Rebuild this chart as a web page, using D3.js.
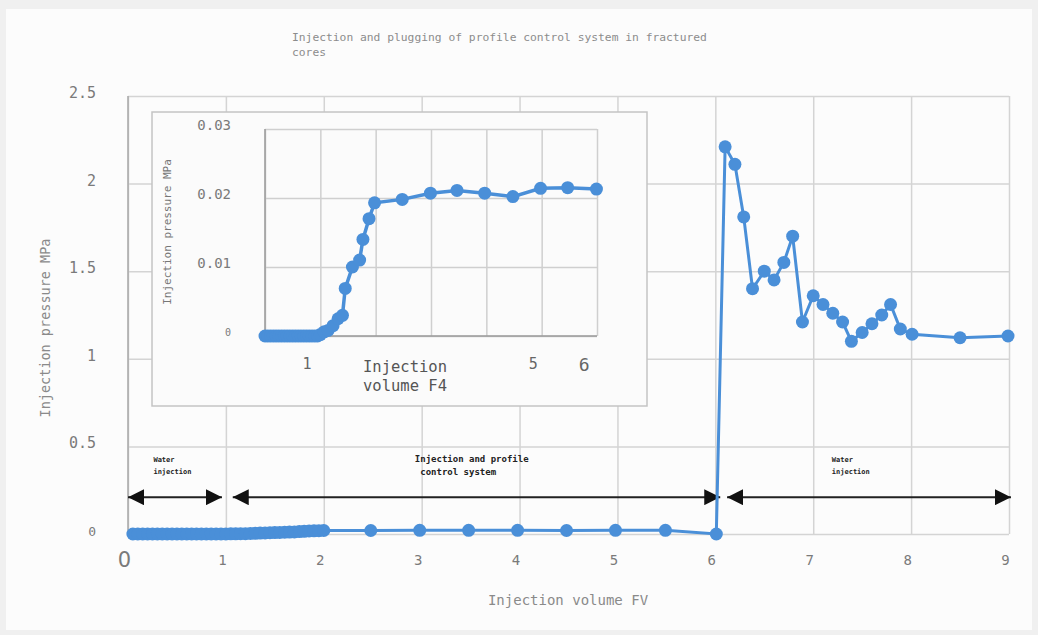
<!DOCTYPE html>
<html>
<head>
<meta charset="utf-8">
<script src="https://cdn.jsdelivr.net/npm/d3@7"></script>
<style>
  html, body { margin: 0; padding: 0; background: #f0f0f0; }
  svg { display: block; }
  text { font-family: "DejaVu Sans Mono", "Liberation Mono", monospace; }
</style>
</head>
<body>
<div id="chart"></div>
<script>
"use strict";

// main series (injection volume FV, pressure MPa)
var mainX = [0.05, 0.1, 0.15, 0.2, 0.25, 0.3, 0.35, 0.4, 0.45, 0.5, 0.55, 0.6, 0.65, 0.7, 0.75, 0.8, 0.85, 0.9, 0.95, 1.0,
  1.05, 1.1, 1.15, 1.2, 1.25, 1.3, 1.35, 1.4, 1.45, 1.5, 1.55, 1.6, 1.65, 1.7, 1.75, 1.8, 1.85, 1.9, 1.95, 2.0,
  2.48, 2.98, 3.48, 3.98, 4.48, 4.98, 5.49, 6.01,
  6.10, 6.20, 6.29, 6.38, 6.50, 6.60, 6.70, 6.79, 6.89, 7.00, 7.10, 7.20, 7.30, 7.39, 7.50, 7.60, 7.70, 7.79, 7.89, 8.01, 8.50, 8.99];
var mainY = [0, 0, 0, 0, 0, 0, 0, 0, 0, 0, 0, 0, 0, 0, 0, 0, 0, 0, 0, 0,
  0.001, 0.001, 0.002, 0.002, 0.003, 0.004, 0.005, 0.006, 0.007, 0.008, 0.009, 0.010, 0.011, 0.012, 0.014, 0.015, 0.017, 0.018, 0.019, 0.02,
  0.02, 0.021, 0.021, 0.021, 0.02, 0.021, 0.021, 0.0,
  2.21, 2.11, 1.81, 1.40, 1.50, 1.45, 1.55, 1.70, 1.21, 1.36, 1.31, 1.26, 1.21, 1.10, 1.15, 1.20, 1.25, 1.31, 1.17, 1.14, 1.12, 1.13];

// inset series (zoom of the low pressure part)
var insetX = [0, 0.05, 0.1, 0.15, 0.2, 0.25, 0.3, 0.35, 0.4, 0.45, 0.5, 0.55, 0.6, 0.65, 0.7, 0.75, 0.8, 0.85, 0.9, 0.95,
  1.0, 1.07, 1.14, 1.23, 1.32, 1.40, 1.45, 1.58, 1.71, 1.77, 1.88, 1.98, 2.48, 2.99, 3.47, 3.97, 4.48, 4.98, 5.47, 5.99];
var insetY = [0, 0, 0, 0, 0, 0, 0, 0, 0, 0, 0, 0, 0, 0, 0, 0, 0, 0, 0, 0,
  0.0002, 0.0006, 0.0008, 0.0015, 0.0025, 0.003, 0.0069, 0.0100, 0.0110, 0.0140, 0.0170, 0.0193, 0.0198, 0.0207, 0.0211, 0.0207, 0.0202, 0.0214, 0.0215, 0.0213];

var xTicks = [0, 1, 2, 3, 4, 5, 6, 7, 8, 9];
var yTicks = [0, 0.5, 1, 1.5, 2, 2.5];
var insetGridX = [0, 1, 2, 3, 4, 5, 6];
var insetYTicks = [0, 0.01, 0.02, 0.03];
var insetTickVals = [0.75, 4.84, 5.76];
var insetTickText = ["1", "5", "6"];

// phases drawn as double arrows
var phaseFrom = [0, 1.07, 6.12];
var phaseTo = [0.96, 6.05, 9.02];
var phaseTextX = [0.26, 2.93, 7.19];
var phaseText = [["Water", "injection"], ["Injection and profile", " control system"], ["Water", "injection"]];

var width = 1038;
var height = 635;
var blue = "#4a8fd8";

var svg = d3.select("#chart").append("svg")
  .attr("width", width)
  .attr("height", height);

svg.append("rect")
  .attr("x", 6).attr("y", 9)
  .attr("width", width - 12).attr("height", height - 14)
  .attr("fill", "#fcfcfc");

var x = d3.scaleLinear().domain([0, 9]).range([128, 1009]);
var y = d3.scaleLinear().domain([0, 2.5]).range([534, 96]);

// grid
svg.append("g")
  .attr("transform", "translate(0," + y(0) + ")")
  .call(d3.axisBottom(x).tickValues(xTicks).tickSize(-(y(0) - y(2.5))).tickFormat(""))
  .call(function(g) { g.select(".domain").remove(); })
  .selectAll("line").attr("stroke", "#d4d4d4").attr("stroke-width", 1.5);

svg.append("g")
  .attr("transform", "translate(" + x(0) + ",0)")
  .call(d3.axisLeft(y).tickValues(yTicks).tickSize(-(x(9) - x(0))).tickFormat(""))
  .call(function(g) { g.select(".domain").remove(); })
  .selectAll("line").attr("stroke", "#d4d4d4").attr("stroke-width", 1.5);

svg.append("line")
  .attr("x1", x(0)).attr("x2", x(0))
  .attr("y1", y(2.5)).attr("y2", y(0))
  .attr("stroke", "#a8a8a8").attr("stroke-width", 1.5);

// y tick labels
svg.append("g")
  .attr("transform", "translate(96,0)")
  .call(d3.axisLeft(y).tickValues(yTicks).tickSize(0).tickPadding(0).tickFormat(function(d) { return String(d); }))
  .call(function(g) { g.select(".domain").remove(); })
  .selectAll("text")
  .attr("fill", "#7a7a7a")
  .attr("font-size", function(d) { return d === 0 ? 13 : 15; })
  .attr("dy", "0.1em")
  .style("font-family", "DejaVu Sans Mono");

// x tick labels
svg.append("g")
  .attr("transform", "translate(-4,555)")
  .call(d3.axisBottom(x).tickValues(xTicks).tickSize(0).tickPadding(0).tickFormat(function(d) { return String(d); }))
  .call(function(g) { g.select(".domain").remove(); })
  .selectAll("text")
  .attr("fill", "#7a7a7a")
  .attr("font-size", function(d) { return d === 0 ? 21 : 14; })
  .attr("dy", function(d) { return d === 0 ? "0.55em" : "0.71em"; })
  .style("font-family", function(d) { return d === 0 ? "DejaVu Sans" : "DejaVu Sans Mono"; });

// titles
svg.append("text")
  .attr("x", 292).attr("y", 41)
  .attr("font-size", 11.3).attr("fill", "#8c8c8c")
  .selectAll("tspan")
  .data(["Injection and plugging of profile control system in fractured", "cores"])
  .enter().append("tspan")
  .attr("x", 292)
  .attr("dy", function(d, i) { return i ? 15 : 0; })
  .text(function(d) { return d; });

svg.append("text")
  .attr("x", 568).attr("y", 605)
  .attr("text-anchor", "middle")
  .attr("font-size", 14).attr("fill", "#8a8a8a")
  .text("Injection volume FV");

svg.append("text")
  .attr("transform", "translate(50,328) rotate(-90)")
  .attr("text-anchor", "middle")
  .attr("font-size", 13.5).attr("fill", "#8a8a8a")
  .text("Injection pressure MPa");

// phase arrows
var defs = svg.append("defs");
defs.append("marker")
  .attr("id", "head")
  .attr("viewBox", "0 0 16 16")
  .attr("refX", 16).attr("refY", 8)
  .attr("markerWidth", 16).attr("markerHeight", 16)
  .attr("markerUnits", "userSpaceOnUse")
  .attr("orient", "auto-start-reverse")
  .append("path")
  .attr("d", "M0,0 L16,8 L0,16 Z")
  .attr("fill", "#111");

var arrowY = 0.21;
svg.selectAll("line.phase")
  .data(phaseFrom)
  .enter().append("line")
  .attr("class", "phase")
  .attr("x1", function(d) { return x(d); })
  .attr("x2", function(d, i) { return x(phaseTo[i]); })
  .attr("y1", y(arrowY)).attr("y2", y(arrowY))
  .attr("stroke", "#222").attr("stroke-width", 2)
  .attr("marker-start", "url(#head)")
  .attr("marker-end", "url(#head)");

svg.selectAll("text.phase")
  .data(phaseText)
  .enter().append("text")
  .attr("class", "phase")
  .attr("x", function(d, i) { return x(phaseTextX[i]); })
  .attr("y", y(0.41))
  .attr("font-size", function(d, i) { return i === 1 ? 9 : 7; })
  .attr("font-weight", "bold")
  .attr("fill", "#222")
  .each(function(d, i) {
    var t = d3.select(this);
    d.forEach(function(s, j) {
      t.append("tspan")
        .attr("x", x(phaseTextX[i]))
        .attr("dy", j ? (i === 1 ? 13 : 12) : 0)
        .text(s);
    });
  });

// main line + markers
var mainData = mainX.map(function(d, i) { return [d, mainY[i]]; });
var line = d3.line()
  .x(function(d) { return x(d[0]); })
  .y(function(d) { return y(d[1]); });

svg.append("path")
  .datum(mainData)
  .attr("fill", "none")
  .attr("stroke", blue)
  .attr("stroke-width", 3)
  .attr("d", line);

svg.selectAll("circle.main")
  .data(mainData)
  .enter().append("circle")
  .attr("class", "main")
  .attr("cx", function(d) { return x(d[0]); })
  .attr("cy", function(d) { return y(d[1]); })
  .attr("r", 6.5)
  .attr("fill", blue);

// inset
var inset = svg.append("g");
inset.append("rect")
  .attr("x", 152).attr("y", 112)
  .attr("width", 495).attr("height", 294)
  .attr("fill", "#fbfbfb")
  .attr("stroke", "#c4c4c4").attr("stroke-width", 1.5);

var ix = d3.scaleLinear().domain([0, 6]).range([265, 597]);
var iy = d3.scaleLinear().domain([0, 0.03]).range([336, 129]);

inset.append("g")
  .attr("transform", "translate(0," + iy(0) + ")")
  .call(d3.axisBottom(ix).tickValues(insetGridX).tickSize(-(iy(0) - iy(0.03))).tickFormat(""))
  .call(function(g) { g.select(".domain").remove(); })
  .selectAll("line").attr("stroke", "#cfcfcf").attr("stroke-width", 1.5);

inset.append("g")
  .attr("transform", "translate(" + ix(0) + ",0)")
  .call(d3.axisLeft(iy).tickValues(insetYTicks).tickSize(-(ix(6) - ix(0))).tickFormat(""))
  .call(function(g) { g.select(".domain").remove(); })
  .selectAll("line").attr("stroke", "#cfcfcf").attr("stroke-width", 1.5);

inset.append("line")
  .attr("x1", ix(0)).attr("x2", ix(0))
  .attr("y1", iy(0.03)).attr("y2", iy(0))
  .attr("stroke", "#9a9a9a").attr("stroke-width", 1.5);
inset.append("line")
  .attr("x1", ix(0)).attr("x2", ix(6))
  .attr("y1", iy(0)).attr("y2", iy(0))
  .attr("stroke", "#9a9a9a").attr("stroke-width", 1.5);

inset.append("g")
  .attr("transform", "translate(231,-4)")
  .call(d3.axisLeft(iy).tickValues(insetYTicks).tickSize(0).tickPadding(0).tickFormat(function(d) { return String(d); }))
  .call(function(g) { g.select(".domain").remove(); })
  .selectAll("text")
  .attr("fill", "#7a7a7a")
  .attr("font-size", function(d) { return d === 0 ? 10 : 14; })
  .style("font-family", "DejaVu Sans Mono");

inset.append("g")
  .attr("transform", "translate(0,358)")
  .call(d3.axisBottom(ix).tickValues(insetTickVals).tickSize(0).tickPadding(0).tickFormat(function(d, i) { return insetTickText[i]; }))
  .call(function(g) { g.select(".domain").remove(); })
  .selectAll("text")
  .attr("fill", "#666")
  .attr("font-size", function(d, i) { return i === 2 ? 18 : 15; })
  .style("font-family", "DejaVu Sans Mono");

inset.append("text")
  .attr("x", 363).attr("y", 372)
  .attr("font-size", 15.5).attr("fill", "#555")
  .selectAll("tspan")
  .data(["Injection", "volume F4"])
  .enter().append("tspan")
  .attr("x", 363)
  .attr("dy", function(d, i) { return i ? 19 : 0; })
  .text(function(d) { return d; });

inset.append("text")
  .attr("transform", "translate(171,232) rotate(-90)")
  .attr("text-anchor", "middle")
  .attr("font-size", 11).attr("fill", "#777")
  .text("Injection pressure MPa");

var insetData = insetX.map(function(d, i) { return [d, insetY[i]]; });
var insetLine = d3.line()
  .x(function(d) { return ix(d[0]); })
  .y(function(d) { return iy(d[1]); });

inset.append("path")
  .datum(insetData)
  .attr("fill", "none")
  .attr("stroke", blue)
  .attr("stroke-width", 3.5)
  .attr("d", insetLine);

inset.selectAll("circle")
  .data(insetData)
  .enter().append("circle")
  .attr("cx", function(d) { return ix(d[0]); })
  .attr("cy", function(d) { return iy(d[1]); })
  .attr("r", 6.5)
  .attr("fill", blue);
</script>
</body>
</html>
